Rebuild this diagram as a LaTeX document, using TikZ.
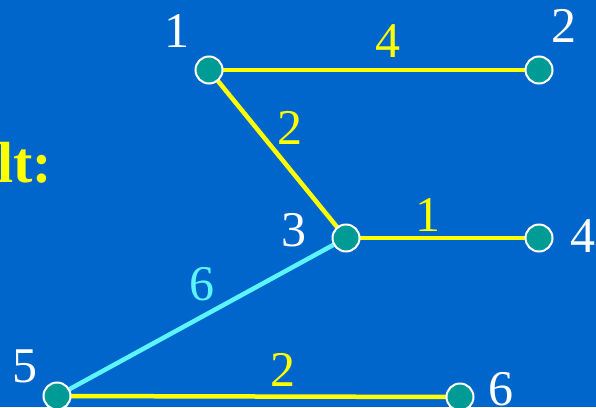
\documentclass[tikz,border=0pt]{standalone}
\usepackage{fontspec}
\setmainfont{Liberation Serif}
\definecolor{bg}{HTML}{0066CC}
\definecolor{vert}{HTML}{009B94}
\definecolor{edgeyel}{HTML}{FFFF00}
\definecolor{edgecyan}{HTML}{5CF4FF}
\begin{document}
\begin{tikzpicture}[x=1pt,y=-1pt,
  vtx/.style={circle,fill=vert,draw=white,line width=2pt,minimum size=27pt,inner sep=0pt},
  ylink/.style={draw=edgeyel,line width=4.5pt},
  clink/.style={draw=edgecyan,line width=4.5pt},
  vlab/.style={text=white,font=\fontsize{50}{50}\selectfont,inner sep=0pt},
  ylab/.style={text=edgeyel,font=\fontsize{50}{50}\selectfont,inner sep=0pt},
  clab/.style={text=edgecyan,font=\fontsize{50}{50}\selectfont,inner sep=0pt}]
\clip (0,0) rectangle (596,407);
\fill[bg] (0,0) rectangle (596,407);
\useasboundingbox (0,0) rectangle (596,407);
\node[anchor=base west,text=edgeyel,inner sep=0pt,font=\bfseries\fontsize{58}{58}\selectfont] (res) at (-3,182) {lt:};
\coordinate (p1) at (209,70);
\coordinate (p2) at (539,70);
\coordinate (p3) at (346,238);
\coordinate (p4) at (539,238);
\coordinate (p5) at (57,396);
\coordinate (p6) at (460,397);
\draw[ylink] (p1) -- (p2);
\draw[ylink] (p1) -- (p3);
\draw[ylink] (p3) -- (p4);
\draw[clink] (p5) -- (p3);
\draw[ylink] (p5) -- (p6);
\node[vtx] (n1) at (p1) {};
\node[vtx] (n2) at (p2) {};
\node[vtx] (n3) at (p3) {};
\node[vtx] (n4) at (p4) {};
\node[vtx] (n5) at (p5) {};
\node[vtx] (n6) at (p6) {};
\node[vlab] (l1) at (177,31) {1};
\node[vlab] (l2) at (564,26) {2};
\node[vlab] (l3) at (294,230) {3};
\node[vlab] (l4) at (583,236) {4};
\node[vlab] (l5) at (25,366) {5};
\node[vlab] (l6) at (501,389) {6};
\node[ylab] (e12) at (388,41) {4};
\node[ylab] (e13) at (290,128) {2};
\node[ylab] (e34) at (428,215) {1};
\node[clab] (e35) at (202,284) {6};
\node[ylab] (e56) at (283,370) {2};
\end{tikzpicture}
\end{document}
